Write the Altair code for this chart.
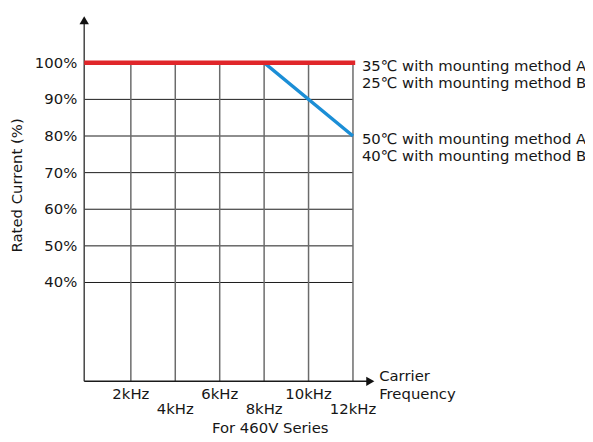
import altair as alt
import pandas as pd

# ---- data ----
freq_ticks = [2, 4, 6, 8, 10, 12]
freq_labels = ["2kHz", "4kHz", "6kHz", "8kHz", "10kHz", "12kHz"]
freq_row = [0, 1, 0, 1, 0, 1]
pct_ticks = [40, 50, 60, 70, 80, 90, 100]
pct_labels = ["40%", "50%", "60%", "70%", "80%", "90%", "100%"]

blue_freq = [0, 8, 12]
blue_pct = [100, 100, 80]
red_freq = [0, 12]
red_pct = [100, 100]

annot_pct = [100, 80]
annot_text = [
    "35℃ with mounting method A\n25℃ with mounting method B",
    "50℃ with mounting method A\n40℃ with mounting method B",
]

x_lo, x_grid_hi, x_hi = -0.1, 12, 13
y_lo, y_grid_hi, y_hi = 13, 100, 113

W, H = 294, 370
FONT = "DejaVu Sans"
FS = 15
TXT = "#161616"

xs = alt.Scale(domain=[x_lo, x_hi], nice=False, zero=False)
ys = alt.Scale(domain=[y_lo, y_hi], nice=False, zero=False)

ticks_x = pd.DataFrame({"f": freq_ticks, "lab": freq_labels, "row": freq_row})
ticks_y = pd.DataFrame({"p": pct_ticks, "lab": pct_labels})
blue = pd.DataFrame({"f": blue_freq, "p": blue_pct})
red = pd.DataFrame({"f": red_freq, "p": red_pct})
annot = pd.DataFrame({"p": annot_pct, "t": annot_text})
one = pd.DataFrame({"k": [0]})


def bx(field):
    return alt.X(field, type="quantitative", scale=xs, axis=None)


def by(field):
    return alt.Y(field, type="quantitative", scale=ys, axis=None)


def dx_(v):
    return alt.X(datum=v, type="quantitative", scale=xs, axis=None)


def dy_(v):
    return alt.Y(datum=v, type="quantitative", scale=ys, axis=None)


hgrid = alt.Chart(ticks_y).mark_rule(color="#1a1a1a", strokeWidth=1).encode(
    x=dx_(x_lo), x2=alt.X2(datum=x_grid_hi), y=by("p")
)
vgrid = alt.Chart(ticks_x).mark_rule(color="#6b6b6b", strokeWidth=1.5).encode(
    x=bx("f"), y=dy_(y_lo), y2=alt.Y2(datum=y_grid_hi)
)

yaxis_line = alt.Chart(one).mark_rule(color="#444444", strokeWidth=1.5).encode(
    x=dx_(x_lo), y=dy_(y_lo), y2=alt.Y2(datum=y_hi - 1.5)
)
xaxis_line = alt.Chart(one).mark_rule(color="#1a1a1a", strokeWidth=1.5).encode(
    x=dx_(x_lo), x2=alt.X2(datum=x_hi - 0.25), y=dy_(y_lo)
)
up_arrow = alt.Chart(one).mark_point(
    shape="triangle-up", filled=True, color="#111111", size=90, opacity=1
).encode(x=dx_(x_lo), y=dy_(y_hi - 1.4))
right_arrow = alt.Chart(one).mark_point(
    shape="triangle-right", filled=True, color="#111111", size=90, opacity=1
).encode(x=dx_(x_hi - 0.22), y=dy_(y_lo))

blue_line = alt.Chart(blue).mark_line(color="#1b8ed6", strokeWidth=3.5).encode(
    x=bx("f"), y=by("p")
)
red_line = alt.Chart(red).mark_line(color="#e0262a", strokeWidth=4.5, strokeCap="square").encode(
    x=bx("f"), y=by("p")
)

ylabels = alt.Chart(ticks_y).mark_text(
    align="right", baseline="middle", font=FONT, fontSize=FS, color=TXT
).encode(x=alt.value(-7), y=by("p"), text="lab:N")

xlab_top = alt.Chart(ticks_x).transform_filter("datum.row == 0").mark_text(
    align="center", baseline="middle", font=FONT, fontSize=FS, color=TXT
).encode(x=bx("f"), y=alt.value(H + 13), text="lab:N")
xlab_bot = alt.Chart(ticks_x).transform_filter("datum.row == 1").mark_text(
    align="center", baseline="middle", font=FONT, fontSize=FS, color=TXT
).encode(x=bx("f"), y=alt.value(H + 28), text="lab:N")

annots = alt.Chart(annot).mark_text(
    align="left", baseline="middle", font=FONT, fontSize=FS, color=TXT,
    lineBreak="\n", lineHeight=17, dx=9, dy=3,
).encode(x=dx_(x_grid_hi), y=by("p"), text="t:N")

carrier = alt.Chart(one).mark_text(
    align="left", baseline="middle", font=FONT, fontSize=FS, color=TXT,
    lineBreak="\n", lineHeight=18, dx=4, dy=-5,
).encode(x=dx_(x_hi), y=dy_(y_lo), text=alt.value("Carrier\nFrequency"))

ytitle = alt.Chart(one).mark_text(
    align="center", baseline="middle", font=FONT, fontSize=FS, color=TXT, angle=270
).encode(x=alt.value(-68), y=alt.value(172), text=alt.value("Rated Current (%)"))

xtitle = alt.Chart(one).mark_text(
    align="center", baseline="middle", font=FONT, fontSize=FS, color=TXT
).encode(x=alt.value(188), y=alt.value(H + 47), text=alt.value("For  460V  Series"))

chart = alt.layer(
    hgrid, vgrid, yaxis_line, xaxis_line, up_arrow, right_arrow,
    blue_line, red_line, ylabels, xlab_top, xlab_bot, annots, carrier, ytitle, xtitle,
).properties(
    width=W, height=H,
    autosize=alt.AutoSizeParams(type="none"),
    padding={"left": 77, "top": 5, "right": 212, "bottom": 56},
    background="white",
).configure_view(stroke=None)

chart.save("out.html", embed_options={"renderer": "svg", "actions": False})
